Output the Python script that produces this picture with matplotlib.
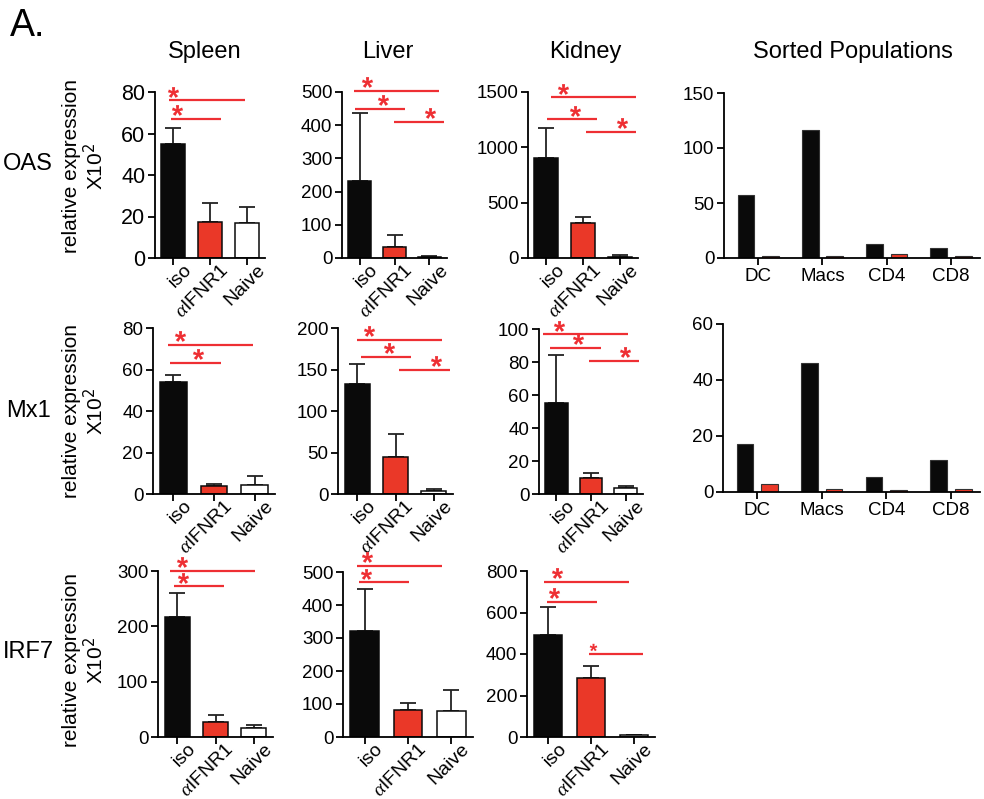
import matplotlib

matplotlib.use("Agg")
import matplotlib.pyplot as plt
import matplotlib.transforms as mtransforms
from matplotlib.font_manager import FontProperties
from matplotlib.path import Path
from matplotlib.textpath import TextPath

plt.rcParams["font.family"] = ["Liberation Sans", "DejaVu Sans"]
plt.rcParams["mathtext.fontset"] = "custom"
plt.rcParams["mathtext.it"] = "Liberation Serif:italic"

# ---- data -------------------------------------------------------------
genes = ["OAS", "Mx1", "IRF7"]
tissues = ["Spleen", "Liver", "Kidney"]
groups = ["iso", r"$\alpha$IFNR1", "Naive"]
populations = ["DC", "Macs", "CD4", "CD8"]

oas_spleen_mean = [55, 17.5, 17]
oas_spleen_err = [7.5, 9, 7.5]
oas_liver_mean = [233, 33, 3]
oas_liver_err = [204, 37, 2]
oas_kidney_mean = [908, 320, 10]
oas_kidney_err = [270, 50, 15]

mx1_spleen_mean = [54, 4, 4.5]
mx1_spleen_err = [3.5, 0.8, 4]
mx1_liver_mean = [133, 45, 4]
mx1_liver_err = [24, 27, 2]
mx1_kidney_mean = [55, 10, 3.5]
mx1_kidney_err = [29, 3, 1.5]

irf7_spleen_mean = [217, 27, 16]
irf7_spleen_err = [43, 13, 6]
irf7_liver_mean = [320, 82, 78]
irf7_liver_err = [130, 21, 65]
irf7_kidney_mean = [492, 285, 8]
irf7_kidney_err = [135, 55, 3]

oas_sorted_iso = [57, 116, 13, 9]
oas_sorted_anti = [2, 2, 4, 2]
mx1_sorted_iso = [17, 46, 5.5, 11.5]
mx1_sorted_anti = [3, 1, 0.8, 1.2]

# significance bars: (x start, x end, y, star x)
oas_spleen_sig = [(-0.12, 1.95, 76, 0.0), (-0.06, 1.3, 67, 0.1)]
oas_liver_sig = [(-0.16, 2.27, 504, 0.21), (-0.13, 1.3, 449, 0.67), (0.99, 2.41, 410, 2.01)]
oas_kidney_sig = [(0.13, 2.44, 1452, 0.45), (0.02, 1.38, 1253, 0.78), (1.08, 2.44, 1141, 2.06)]
mx1_spleen_sig = [(-0.13, 1.96, 71.8, 0.16), (-0.08, 1.17, 63.3, 0.6)]
mx1_liver_sig = [(0.0, 2.21, 186, 0.31), (0.1, 1.4, 165, 0.83), (1.09, 2.42, 149.4, 2.06)]
mx1_kidney_sig = [(-0.38, 2.07, 96.8, 0.09), (-0.18, 1.29, 88.5, 0.62), (0.94, 2.38, 80.7, 1.98)]
irf7_spleen_sig = [(-0.19, 2.03, 300.5, 0.13), (-0.08, 1.22, 272, 0.15)]
irf7_liver_sig = [(-0.18, 1.78, 519, 0.05), (-0.13, 1.02, 469, 0.03)]
irf7_kidney_sig = [(-0.1, 1.89, 748, 0.2), (-0.03, 1.14, 652, 0.13), (0.95, 2.22, 400, 1.05)]

BLACK = "#0a0a0a"
RED = "#ea3828"
SIG_RED = "#ee2f33"

# centred asterisk glyph used as a marker
_tp = TextPath((0, 0), "*", size=1, prop=FontProperties(family="Liberation Sans", weight="bold"))
_ext = _tp.get_extents()
_centre = [_ext.x0 + _ext.width / 2, _ext.y0 + _ext.height / 2]
_verts = _tp.vertices.copy()
_verts[_tp.codes == Path.CLOSEPOLY] = _centre
STAR = Path(_verts - _centre, _tp.codes)

W, H = 984, 799
fig = plt.figure(figsize=(W / 100, H / 100), dpi=100)
label_shift = mtransforms.ScaledTranslation(7 / 72, 3.5 / 72, fig.dpi_scale_trans)


def px_axes(left, right, top, bottom):
    return fig.add_axes([left / W, 1 - bottom / H, (right - left) / W, (bottom - top) / H])


def style(ax, ymax, ystep, size):
    ax.spines[["top", "right"]].set_visible(False)
    for s in ("left", "bottom"):
        ax.spines[s].set_linewidth(1.3)
    ax.set_ylim(0, ymax)
    ax.set_yticks(range(0, ymax + 1, ystep))
    ax.tick_params(axis="both", length=5, width=1.3, labelsize=size, pad=2)


def tissue_panel(ax, means, errs, sigs, ymax, ystep, size=13.5, small_last=False):
    x = range(len(groups))
    ax.bar(x, means, width=0.66, color=[BLACK, RED, "white"],
           edgecolor=BLACK, linewidth=1.1, zorder=2)
    ax.errorbar(x, means, yerr=[[0] * len(errs), errs], fmt="none",
                ecolor="#222222", elinewidth=1.3, capsize=6, capthick=1.3, zorder=1)
    ax.set_xlim(-0.5, 2.5)
    style(ax, ymax, ystep, size)
    ax.set_xticks(list(x))
    ax.set_xticklabels(groups, rotation=45, ha="right", rotation_mode="anchor")
    ax.tick_params(axis="x", pad=1, labelsize=14)
    for lab in ax.get_xticklabels():
        lab.set_transform(lab.get_transform() + label_shift)
    for i, (x0, x1, y, sx) in enumerate(sigs):
        ax.plot([x0, x1], [y, y], color=SIG_RED, lw=1.6, clip_on=False,
                solid_capstyle="butt")
        small = small_last and i == len(sigs) - 1
        ax.plot(sx, y + ymax * (0.04 if small else 0.052), marker=STAR,
                ms=5.5 if small else 8, color=SIG_RED, ls="none", mew=0, clip_on=False)


def sorted_panel(ax, iso, anti, ymax, ystep):
    x = list(range(len(populations)))
    ax.bar([v - 0.19 for v in x], iso, width=0.26, color=BLACK,
           edgecolor="#333333", linewidth=0.8)
    ax.bar([v + 0.19 for v in x], anti, width=0.26, color=RED,
           edgecolor="#333333", linewidth=0.8)
    ax.set_xlim(-0.53, 3.45)
    style(ax, ymax, ystep, 13.5)
    ax.set_xticks(x)
    ax.set_xticklabels(populations)


# row 1: OAS
tissue_panel(px_axes(155, 265, 92, 258), oas_spleen_mean, oas_spleen_err, oas_spleen_sig, 80, 20, size=15.5)
tissue_panel(px_axes(342, 447, 92, 258), oas_liver_mean, oas_liver_err, oas_liver_sig, 500, 100)
tissue_panel(px_axes(528, 638, 92, 258), oas_kidney_mean, oas_kidney_err, oas_kidney_sig, 1500, 500)
sorted_panel(px_axes(724, 980, 93, 258), oas_sorted_iso, oas_sorted_anti, 150, 50)

# row 2: Mx1
tissue_panel(px_axes(153, 275, 328, 494), mx1_spleen_mean, mx1_spleen_err, mx1_spleen_sig, 80, 20)
tissue_panel(px_axes(338, 453, 328, 494), mx1_liver_mean, mx1_liver_err, mx1_liver_sig, 200, 50)
tissue_panel(px_axes(539, 643, 329, 494), mx1_kidney_mean, mx1_kidney_err, mx1_kidney_sig, 100, 20)
sorted_panel(px_axes(723, 980, 324, 492), mx1_sorted_iso, mx1_sorted_anti, 60, 20)

# row 3: IRF7
tissue_panel(px_axes(158, 273, 571, 737), irf7_spleen_mean, irf7_spleen_err, irf7_spleen_sig, 300, 100)
tissue_panel(px_axes(343, 473, 572, 737), irf7_liver_mean, irf7_liver_err, irf7_liver_sig, 500, 100)
tissue_panel(px_axes(527, 655, 571, 737), irf7_kidney_mean, irf7_kidney_err, irf7_kidney_sig, 800, 200,
             small_last=True)

# titles and labels
fig.text(10 / W, 1 - 26 / H, "A.", fontsize=27, va="center", ha="left")
for name, xc in zip(tissues + ["Sorted Populations"], [205, 388, 585, 853]):
    fig.text(xc / W, 1 - 52 / H, name, fontsize=17, ha="center", va="center")
for gene, yc in zip(genes, [164, 411, 652]):
    fig.text(28 / W, 1 - yc / H, gene, fontsize=17, ha="center", va="center")
for yc in [166, 411, 660]:
    fig.text(84 / W, 1 - yc / H, "relative expression\nX10$^{2}$", fontsize=15,
             rotation=90, ha="center", va="center", linespacing=1.05)

fig.savefig("out.png", dpi=100)
plt.close(fig)
